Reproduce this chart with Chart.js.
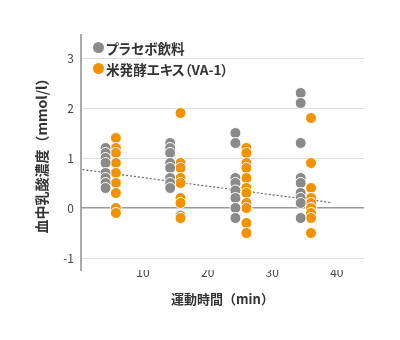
<!DOCTYPE html>
<html>
<head>
<meta charset="utf-8">
<script src="https://cdn.jsdelivr.net/npm/chart.js@4"></script>
<style>
    body { margin: 0; background: #fff; }
    .wrap { position: relative; width: 400px; height: 340px; }
    .legend { position: absolute; left: 93px; top: 37px; font: bold 13.6px 'Noto Sans CJK JP', 'Noto Sans', sans-serif; color: #333; font-feature-settings: "palt"; }
    .legend-row { display: flex; align-items: center; height: 21px; }
    .legend-dot { width: 11px; height: 11px; border-radius: 50%; margin-right: 2px; }
</style>
</head>
<body>
<div class="wrap">
    <canvas id="lacticChart" width="400" height="340"></canvas>
    <div class="legend" id="legend"></div>
</div>
<script>
// x positions of each measurement group (minutes, slightly offset per series)
const placeboX = [4.2, 14.2, 24.3, 34.4];
const extractX = [5.8, 15.8, 26, 36];

// プラセボ飲料 values per group (mmol/l)
const placebo1 = [1.2, 1.1, 1.0, 0.9, 0.7, 0.6, 0.5, 0.4];
const placebo2 = [1.3, 1.2, 1.1, 0.9, 0.8, 0.6, 0.5, 0.4];
const placebo3 = [1.5, 1.3, 0.6, 0.5, 0.35, 0.2, 0.0, -0.2];
const placebo4 = [2.3, 2.1, 1.3, 0.6, 0.5, 0.3, 0.2, 0.1, -0.2];

// 米発酵エキス（VA-1） values per group (mmol/l)
const extract1 = [1.4, 1.2, 1.1, 0.9, 0.7, 0.5, 0.3, 0.0, -0.1];
const extract2 = [1.9, 0.9, 0.8, 0.6, 0.5, 0.2, 0.1, -0.15, -0.2];
const extract3 = [1.2, 1.1, 0.9, 0.8, 0.6, 0.4, 0.3, 0.1, 0.0, -0.3, -0.5];
const extract4 = [1.8, 0.9, 0.4, 0.2, 0.1, 0.0, -0.1, -0.2, -0.5];

// dotted trend line ends
const trendX = [0, 39];
const trendY = [0.78, 0.11];

const xTicks = [10, 20, 30, 40];
const yTicks = [-1, 0, 1, 2, 3];

const seriesLabels = ['プラセボ飲料', '米発酵エキス（VA-1）'];
const seriesColors = ['#8a8a8a', '#f39200'];

function toPoints(xs, groups) {
    const pts = [];
    groups.forEach((vals, i) => {
        vals.forEach(v => pts.push({ x: xs[i], y: v }));
    });
    return pts;
}

const FONT = "'Noto Sans CJK JP', 'Noto Sans', sans-serif";

document.addEventListener('DOMContentLoaded', function() {
    const ctx = document.getElementById('lacticChart');

    new Chart(ctx, {
        type: 'scatter',
        data: {
            datasets: [{
                label: seriesLabels[0],
                data: toPoints(placeboX, [placebo1, placebo2, placebo3, placebo4]),
                backgroundColor: seriesColors[0],
                borderColor: '#fff',
                borderWidth: 1,
                pointRadius: 5.5
            }, {
                label: seriesLabels[1],
                data: toPoints(extractX, [extract1, extract2, extract3, extract4]),
                backgroundColor: seriesColors[1],
                borderColor: '#fff',
                borderWidth: 1,
                pointRadius: 5.5
            }, {
                type: 'line',
                label: 'trend',
                data: trendX.map((x, i) => ({ x: x, y: trendY[i] })),
                borderColor: '#666',
                borderWidth: 1.2,
                borderDash: [2, 2],
                pointRadius: 0,
                fill: false
            }]
        },
        options: {
            responsive: false,
            animation: false,
            layout: { padding: { top: 35, right: 36, left: 0, bottom: 0 } },
            plugins: {
                legend: { display: false },
                tooltip: { enabled: false }
            },
            scales: {
                x: {
                    type: 'linear',
                    min: 0.4,
                    max: 44.2,
                    afterBuildTicks: scale => { scale.ticks = xTicks.map(v => ({ value: v })); },
                    afterFit: scale => { scale.height = 70; },
                    grid: { display: false, drawTicks: false },
                    border: { display: false },
                    ticks: { padding: -5, color: '#444', font: { family: FONT, size: 12 } },
                    title: {
                        display: true,
                        text: '運動時間（min）',
                        color: '#333',
                        font: { family: FONT, size: 13, weight: 'bold' },
                        padding: { top: 0, bottom: 33 }
                    }
                },
                y: {
                    min: -1.24,
                    max: 3.46,
                    afterBuildTicks: scale => { scale.ticks = yTicks.map(v => ({ value: v })); },
                    afterFit: scale => { scale.width = 81; },
                    grid: {
                        drawTicks: false,
                        color: c => (c.tick && c.tick.value === 0) ? '#999' : '#ddd',
                        lineWidth: c => (c.tick && c.tick.value === 0) ? 1.5 : 1
                    },
                    border: { display: true, color: '#aaa', width: 2 },
                    ticks: { padding: 7, color: '#444', font: { family: FONT, size: 12 } },
                    title: {
                        display: true,
                        text: '血中乳酸濃度（mmol/l）',
                        color: '#333',
                        font: { family: FONT, size: 14, weight: 'bold' },
                        padding: { top: 33, bottom: 0 }
                    }
                }
            }
        }
    });

    // legend inside the plot, top-left
    const legend = document.getElementById('legend');
    seriesLabels.forEach((label, i) => {
        const row = document.createElement('div');
        row.className = 'legend-row';
        const dot = document.createElement('span');
        dot.className = 'legend-dot';
        dot.style.backgroundColor = seriesColors[i];
        const text = document.createElement('span');
        text.textContent = label;
        row.appendChild(dot);
        row.appendChild(text);
        legend.appendChild(row);
    });
});
</script>
</body>
</html>
